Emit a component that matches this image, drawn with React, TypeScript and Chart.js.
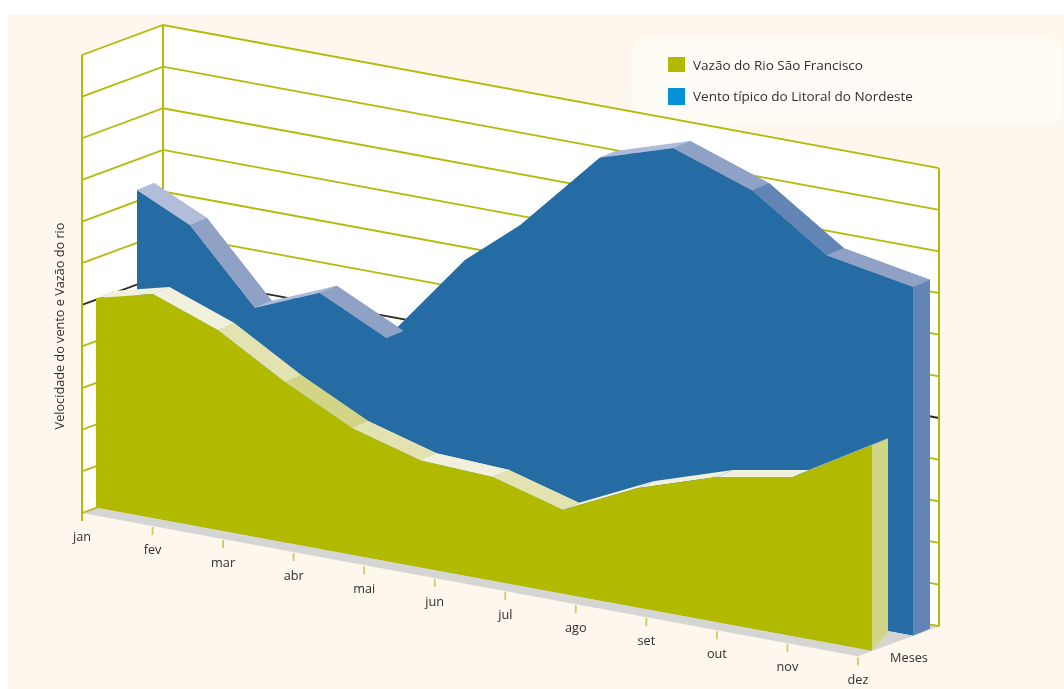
import React, { useEffect, useRef } from "react";
import { Chart, registerables } from "chart.js";

const meses = ["jan", "fev", "mar", "abr", "mai", "jun", "jul", "ago", "set", "out", "nov", "dez"];
const gridValues = [0, 10, 20, 30, 40, 50, 60, 70, 80, 90, 100, 110];

const rioPos = [0, 0.81, 1.73, 2.68, 3.63, 4.6, 5.62, 6.62, 7.67, 8.8, 9.88, 11];
const rioVazao = [50.4, 53.9, 48.1, 38.6, 30.5, 25.8, 25.0, 20.2, 28.7, 34.9, 38.3, 49.4];

const ventoPos = [0, 0.75, 1.67, 2.59, 3.54, 4.65, 5.43, 6.56, 7.6, 8.72, 9.78, 11];
const ventoVel = [72.7, 66.6, 49.6, 56.1, 48.2, 70.4, 81.2, 100.9, 106.5, 99.9, 87.6, 83.8];

const rioFaces = ["#f0f0dc", "#f0f0dc", "#e2e3b0", "#d2d585", "#e2e3b0", "#f0f0dc", "#e2e3b0", "#f0f0dc", "#f0f0dc", "#f0f0dc", "#f0f0dc"];
const ventoFaces = ["#b1bdd9", "#8fa2c6", "#aebbd9", "#8fa2c6", "#8fa2c6", "#8fa2c6", "#8fa2c6", "#aebbd9", "#8fa2c6", "#6285b5", "#8fa2c6"];

const FONT = '"Open Sans", sans-serif';
const SKEW = 0.1845;
const BACK = { dx: 81, dy: -30 };
const TEXT = "#2f2f2d";
const GRID = "#b3ba08";

type Layer = { dx: number; dy: number; sweepX: number; sweepY: number; baseDy: number; faces: string[]; side: string };
const layers: Record<string, Layer> = {
  rio: { dx: 14, dy: -5.2, sweepX: 16, sweepY: -7, baseDy: -19, faces: rioFaces, side: "#d2d585" },
  vento: { dx: 55, dy: -20.4, sweepX: 17, sweepY: -7, baseDy: -7, faces: ventoFaces, side: "#6285b5" },
};

const screen = (chart: any, px: number, py: number, l: { dx: number; dy: number }) => ({
  x: px + l.dx,
  y: py + SKEW * (px - chart.chartArea.left) + l.dy,
});

const poly = (ctx: CanvasRenderingContext2D, pts: { x: number; y: number }[], fill: string) => {
  ctx.beginPath();
  pts.forEach((p, i) => (i ? ctx.lineTo(p.x, p.y) : ctx.moveTo(p.x, p.y)));
  ctx.closePath();
  ctx.fillStyle = fill;
  ctx.fill();
};

const drawStrips = (chart: any, meta: any, l: Layer, fallingOnly: boolean) => {
  const ctx = chart.ctx;
  const pts = meta.data.map((p: any) => screen(chart, p.x, p.y, l));
  for (let i = 0; i < pts.length - 1; i++) {
    const a = pts[i];
    const b = pts[i + 1];
    if (fallingOnly && b.y <= a.y) continue;
    poly(
      ctx,
      [a, b, { x: b.x + l.sweepX, y: b.y + l.sweepY }, { x: a.x + l.sweepX, y: a.y + l.sweepY }],
      l.faces[i]
    );
  }
};

const scene = {
  id: "scene",
  beforeDraw(chart: any) {
    const { ctx, width, height } = chart;
    ctx.save();
    ctx.fillStyle = "#ffffff";
    ctx.fillRect(0, 0, width, height);
    ctx.fillStyle = "#fef7ed";
    ctx.fillRect(8, 15, width - 8, height - 15);
    ctx.fillStyle = "#fffcf6";
    ctx.beginPath();
    ctx.roundRect(633, 38, 429, 87, 14);
    ctx.fill();
    ctx.restore();
  },
  beforeDatasetsDraw(chart: any) {
    const { ctx, scales } = chart;
    const { x, y } = scales;
    const zero = { dx: 0, dy: 0 };
    const x0 = x.getPixelForValue(0);
    const x1 = x.getPixelForValue(11);
    const yb = y.getPixelForValue(0);
    const yt = y.getPixelForValue(110);
    ctx.save();
    // walls
    poly(ctx, [screen(chart, x0, yt, zero), screen(chart, x0, yt, BACK), screen(chart, x1, yt, BACK), screen(chart, x1, yb, BACK), screen(chart, x0, yb, BACK), screen(chart, x0, yb, zero)], "#ffffff");
    // floor
    poly(ctx, [screen(chart, x0, yb, zero), screen(chart, x0, yb, BACK), screen(chart, x1, yb, BACK), screen(chart, x1, yb, zero)], "#d5d5d3");
    // grid
    ctx.lineWidth = 1.8;
    gridValues.forEach((v) => {
      const py = y.getPixelForValue(v);
      const a = screen(chart, x0, py, zero);
      const b = screen(chart, x0, py, BACK);
      const c = screen(chart, x1, py, BACK);
      ctx.strokeStyle = v === 50 ? "#2c2c20" : GRID;
      ctx.beginPath();
      ctx.moveTo(a.x, a.y);
      ctx.lineTo(b.x, b.y);
      ctx.lineTo(c.x, c.y);
      ctx.stroke();
    });
    ctx.strokeStyle = GRID;
    ctx.lineWidth = 2;
    [zero, BACK].forEach((l, i) => {
      const top = screen(chart, x0, yt, l);
      const bottom = screen(chart, x0, yb, l);
      ctx.beginPath();
      ctx.moveTo(top.x, top.y);
      ctx.lineTo(bottom.x, bottom.y + (i ? 0 : 8));
      ctx.stroke();
    });
    const rt = screen(chart, x1, yt, BACK);
    const rb = screen(chart, x1, yb, BACK);
    ctx.beginPath();
    ctx.moveTo(rt.x, rt.y);
    ctx.lineTo(rb.x, rb.y);
    ctx.stroke();
    // month ticks and labels
    ctx.font = `12.7px ${FONT}`;
    ctx.textAlign = "center";
    ctx.textBaseline = "middle";
    ctx.lineWidth = 1.8;
    meses.forEach((m, i) => {
      const p = screen(chart, x.getPixelForValue(i), yb, zero);
      if (i) {
        ctx.strokeStyle = "#c9cf66";
        ctx.beginPath();
        ctx.moveTo(p.x, p.y + 1);
        ctx.lineTo(p.x, p.y + 9);
        ctx.stroke();
      }
      ctx.fillStyle = TEXT;
      ctx.fillText(m, p.x, p.y + 24);
    });
    ctx.fillText("Meses", 909, 658);
    // axis title
    ctx.save();
    ctx.translate(60, 326);
    ctx.rotate(-Math.PI / 2);
    ctx.fillText("Velocidade do vento e Vazão do rio", 0, 0);
    ctx.restore();
    // legend
    ctx.font = `13.5px ${FONT}`;
    chart.data.datasets.forEach((d: any, i: number) => {
      const top = i ? 88 : 57;
      ctx.fillStyle = d.legendColor;
      ctx.fillRect(668, top, 17, i ? 17 : 15);
      ctx.fillStyle = TEXT;
      ctx.textAlign = "left";
      ctx.fillText(d.label, 693, i ? 97.5 : 66.5);
    });
    ctx.restore();
  },
  beforeDatasetDraw(chart: any, args: any) {
    const { ctx } = chart;
    const l = layers[chart.data.datasets[args.index].layer];
    drawStrips(chart, args.meta, l, false);
    ctx.save();
    ctx.transform(1, SKEW, 0, 1, l.dx, l.dy - SKEW * chart.chartArea.left);
  },
  afterDatasetDraw(chart: any, args: any) {
    const { ctx, scales } = chart;
    ctx.restore();
    const l = layers[chart.data.datasets[args.index].layer];
    drawStrips(chart, args.meta, l, true);
    const last = args.meta.data[args.meta.data.length - 1];
    const t = screen(chart, last.x, last.y, l);
    const b = screen(chart, last.x, scales.y.getPixelForValue(0), l);
    poly(ctx, [t, { x: t.x + l.sweepX, y: t.y + l.sweepY }, { x: b.x + l.sweepX, y: b.y + l.baseDy }, b], l.side);
  },
};

Chart.register(scene, ...registerables);

export default function App() {
  const ref = useRef<HTMLCanvasElement>(null);
  useEffect(() => {
    const chart = new Chart(ref.current as HTMLCanvasElement, {
      type: "line",
      data: {
        datasets: [
          {
            label: "Vazão do Rio São Francisco",
            layer: "rio",
            legendColor: "#b2ba00",
            data: rioVazao.map((v, i) => ({ x: rioPos[i], y: v })),
            backgroundColor: "#b2ba00",
            borderWidth: 0,
            pointRadius: 0,
            fill: "origin",
          },
          {
            label: "Vento típico do Litoral do Nordeste",
            layer: "vento",
            legendColor: "#0091d8",
            data: ventoVel.map((v, i) => ({ x: ventoPos[i], y: v })),
            backgroundColor: "#266ca4",
            borderWidth: 0,
            pointRadius: 0,
            fill: "origin",
          },
        ] as any,
      },
      options: {
        responsive: false,
        animation: false,
        events: [],
        layout: { padding: { left: 82, right: 206, top: 55, bottom: 176 } },
        plugins: { legend: { display: false }, tooltip: { enabled: false }, title: { display: false } },
        scales: {
          x: { type: "linear", min: 0, max: 11, display: false },
          y: { type: "linear", min: 0, max: 110, display: false },
        },
      },
    });
    return () => chart.destroy();
  }, []);
  return (
    <div style={{ position: "fixed", left: 0, top: 0, width: 1064, height: 689, overflow: "hidden" }}>
      <canvas ref={ref} width={1064} height={689} style={{ display: "block", filter: "blur(0.5px)" }} />
    </div>
  );
}
